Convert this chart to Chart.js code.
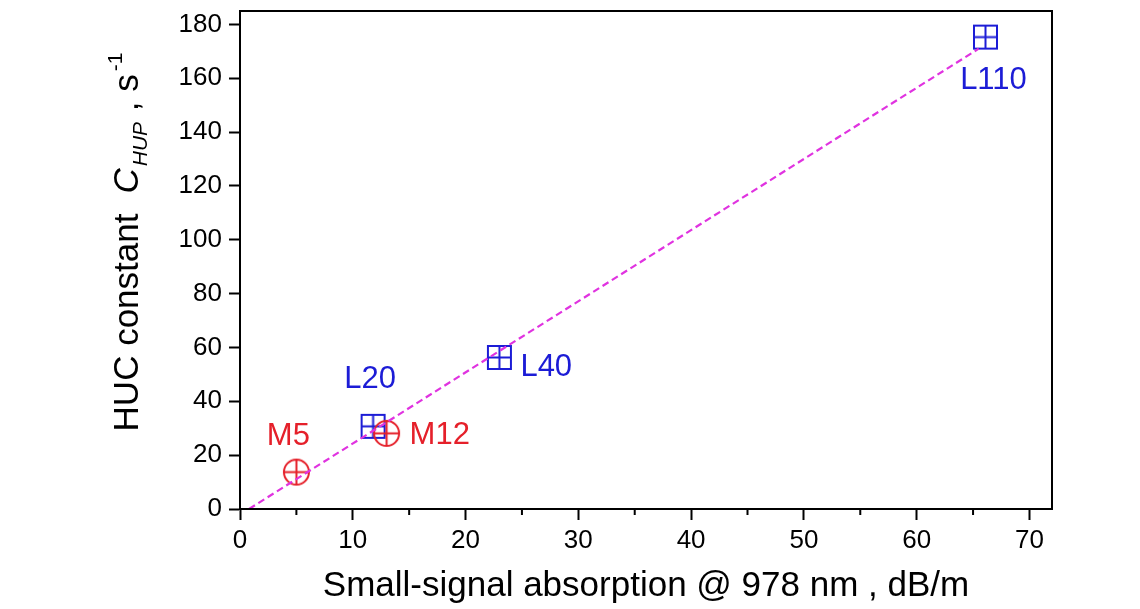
<!DOCTYPE html>
<html>
<head>
<meta charset="utf-8">
<title>HUC constant vs absorption</title>
<script src="https://cdn.jsdelivr.net/npm/chart.js@4.4.0/dist/chart.umd.min.js"></script>
<style>
  body { margin: 0; background: #fff; }
  #wrap { width: 1140px; height: 609px; position: relative; }
</style>
</head>
<body>
<div id="wrap"><canvas id="myChart"></canvas></div>
<script>
// M-series fibres (red circles)
const mNames = ["M5", "M12"];
const mAbsorption = [5.0, 13.0];
const mHuc = [13.7, 28.1];

// L-series fibres (blue squares)
const lNames = ["L20", "L40", "L110"];
const lAbsorption = [11.8, 23.0, 66.1];
const lHuc = [30.7, 56.3, 175.3];

// linear fit, end points
const fitAbsorption = [0.8, 65.5];
const fitHuc = [0, 171];

const FONT = '"Liberation Sans", Arial, sans-serif';
const BLUE = "#1c1cd6";
const RED = "#e5202a";

function marker(shape, color, size) {
  const c = document.createElement("canvas");
  c.width = c.height = size + 4;
  const g = c.getContext("2d");
  const m = (size + 4) / 2, r = size / 2;
  g.strokeStyle = color;
  g.lineWidth = 2;
  g.beginPath();
  if (shape === "circle") g.arc(m, m, r, 0, Math.PI * 2);
  else g.rect(m - r, m - r, size, size);
  g.moveTo(m - r, m); g.lineTo(m + r, m);
  g.moveTo(m, m - r); g.lineTo(m, m + r);
  g.stroke();
  return c;
}

function toPoints(xs, ys) {
  return xs.map((x, i) => ({ x: x, y: ys[i] }));
}

// label offsets from each point, in px: [dx, dy, align]
const mLabelPos = [[-8, -36, "center"], [23, 2, "left"]];
const lLabelPos = [[-3, -47, "center"], [21, 10, "left"], [8, 43, "center"]];

const pointLabels = {
  id: "pointLabels",
  afterDatasetsDraw(chart) {
    const ctx = chart.ctx, xs = chart.scales.x, ys = chart.scales.y;
    ctx.save();
    ctx.font = "31px " + FONT;
    ctx.textBaseline = "middle";
    const put = (names, ax, ay, pos, color) => {
      names.forEach((n, i) => {
        ctx.fillStyle = color;
        ctx.textAlign = pos[i][2];
        ctx.fillText(n, xs.getPixelForValue(ax[i]) + pos[i][0], ys.getPixelForValue(ay[i]) + pos[i][1]);
      });
    };
    put(mNames, mAbsorption, mHuc, mLabelPos, RED);
    put(lNames, lAbsorption, lHuc, lLabelPos, BLUE);
    ctx.restore();
  }
};

// closing frame, minor ticks and the y title with sub/superscripts
const frame = {
  id: "frame",
  afterDraw(chart) {
    const ctx = chart.ctx, a = chart.chartArea;
    const xs = chart.scales.x, ys = chart.scales.y;
    ctx.save();
    ctx.strokeStyle = "#000";
    ctx.lineWidth = 2;
    ctx.strokeRect(a.left, a.top, a.right - a.left, a.bottom - a.top);

    ctx.beginPath();
    ys.ticks.forEach(t => {
      if (t.value % 20 !== 0) {
        const p = ys.getPixelForValue(t.value);
        ctx.moveTo(a.left, p); ctx.lineTo(a.left - 6, p);
      }
    });
    xs.ticks.forEach(t => {
      if (t.value % 10 !== 0) {
        const p = xs.getPixelForValue(t.value);
        ctx.moveTo(p, a.bottom); ctx.lineTo(p, a.bottom + 6);
      }
    });
    ctx.stroke();

    // y title
    const big = "35px " + FONT, bigIt = "italic 35px " + FONT, small = "21px " + FONT, smallIt = "italic 21px " + FONT;
    const parts = [
      ["HUC constant", big, 0, 0],
      ["C", bigIt, 20, 0],
      ["HUP", smallIt, 2, 9],
      [" ,", big, 1, 0],
      [" s", big, 0, 0],
      ["-1", small, 3, -16]
    ];
    let total = 0;
    parts.forEach(p => { ctx.font = p[1]; total += p[2] + ctx.measureText(p[0]).width; });
    ctx.translate(138, 242 + total / 2);
    ctx.rotate(-Math.PI / 2);
    ctx.fillStyle = "#000";
    ctx.textAlign = "left";
    ctx.textBaseline = "alphabetic";
    let x = 0;
    parts.forEach(p => {
      ctx.font = p[1];
      x += p[2];
      ctx.fillText(p[0], x, p[3]);
      x += ctx.measureText(p[0]).width;
    });
    ctx.restore();
  }
};

const ctx = document.getElementById("myChart");

new Chart(ctx, {
  type: "scatter",
  data: {
    datasets: [
      {
        label: "fit",
        type: "line",
        data: toPoints(fitAbsorption, fitHuc),
        borderColor: "#e033e0",
        borderWidth: 2.2,
        borderDash: [7, 4],
        pointRadius: 0,
        fill: false
      },
      {
        label: "M",
        data: toPoints(mAbsorption, mHuc),
        pointStyle: marker("circle", RED, 25)
      },
      {
        label: "L",
        data: toPoints(lAbsorption, lHuc),
        pointStyle: marker("rect", BLUE, 23)
      }
    ]
  },
  options: {
    responsive: true,
    maintainAspectRatio: false,
    animation: false,
    layout: { padding: { top: 11, right: 88, bottom: 0, left: 0 } },
    plugins: {
      legend: { display: false },
      tooltip: { enabled: false }
    },
    scales: {
      x: {
        type: "linear",
        min: 0,
        max: 72,
        afterFit: s => { s.height = 100; s.paddingRight = 0; s.paddingLeft = 0; },
        border: { display: true, color: "#000", width: 2 },
        grid: {
          drawOnChartArea: false,
          tickLength: 11,
          tickWidth: 2,
          tickColor: c => (c.tick && c.tick.value % 10 === 0 ? "#000" : "rgba(0,0,0,0)")
        },
        ticks: {
          stepSize: 5,
          includeBounds: false,
          padding: 5,
          color: "#000",
          font: { family: FONT, size: 26 },
          callback: v => (v % 10 === 0 ? v : "")
        },
        title: {
          display: true,
          text: "Small-signal absorption @ 978 nm , dB/m",
          color: "#000",
          font: { family: FONT, size: 35 },
          padding: { top: 10, bottom: 2 }
        }
      },
      y: {
        type: "linear",
        min: 0,
        max: 185,
        afterFit: s => { s.width = 240; s.paddingTop = 0; s.paddingBottom = 0; },
        border: { display: true, color: "#000", width: 2 },
        grid: {
          drawOnChartArea: false,
          tickLength: 11,
          tickWidth: 2,
          tickColor: c => (c.tick && c.tick.value % 20 === 0 ? "#000" : "rgba(0,0,0,0)")
        },
        ticks: {
          stepSize: 10,
          includeBounds: false,
          padding: 7,
          color: "#000",
          font: { family: FONT, size: 26 },
          callback: v => (v % 20 === 0 ? v : "")
        }
      }
    }
  },
  plugins: [pointLabels, frame]
});
</script>
</body>
</html>
